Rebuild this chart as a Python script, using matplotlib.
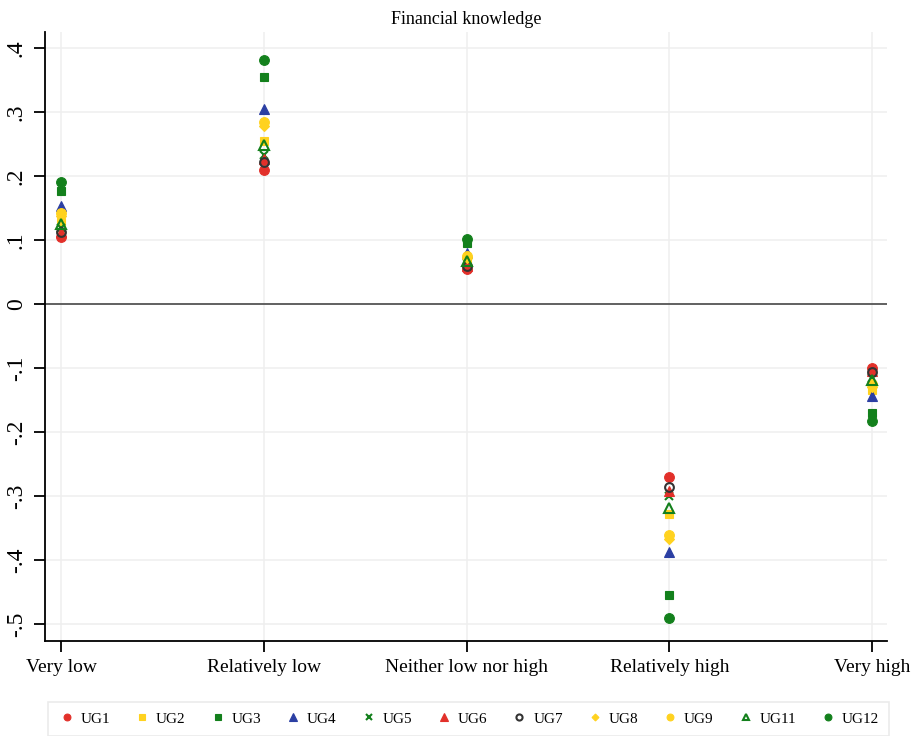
import matplotlib
matplotlib.use("Agg")
import matplotlib.pyplot as plt

categories = ["Very low", "Relatively low", "Neither low nor high", "Relatively high", "Very high"]

ug1 = [0.105, 0.209, 0.055, -0.270, -0.100]
ug2 = [0.128, 0.255, 0.070, -0.328, -0.135]
ug3 = [0.177, 0.354, 0.095, -0.455, -0.170]
ug4 = [0.153, 0.304, 0.080, -0.388, -0.143]
ug5 = [0.118, 0.233, 0.064, -0.300, -0.115]
ug6 = [0.113, 0.226, 0.060, -0.292, -0.105]
ug7 = [0.112, 0.222, 0.060, -0.286, -0.107]
ug8 = [0.138, 0.278, 0.072, -0.367, -0.130]
ug9 = [0.142, 0.285, 0.075, -0.361, -0.125]
ug11 = [0.125, 0.249, 0.067, -0.318, -0.118]
ug12 = [0.191, 0.381, 0.101, -0.491, -0.183]

yticks = [-0.5, -0.4, -0.3, -0.2, -0.1, 0, 0.1, 0.2, 0.3, 0.4]
ytick_labels = ["-.5", "-.4", "-.3", "-.2", "-.1", "0", ".1", ".2", ".3", ".4"]

red = "#e2302a"
yellow = "#ffd21f"
green = "#13801c"
blue = "#2b3fa3"
grey = "#333333"

# label, values, marker, face colour, edge colour, size
series = [
    ("UG1", ug1, "o", red, red, 7),
    ("UG2", ug2, "s", yellow, yellow, 6.3),
    ("UG3", ug3, "s", green, green, 6.3),
    ("UG4", ug4, "^", blue, blue, 7.5),
    ("UG5", ug5, "x", green, green, 6),
    ("UG6", ug6, "^", red, red, 7.5),
    ("UG7", ug7, "o", "none", grey, 6.3),
    ("UG8", ug8, "D", yellow, yellow, 5),
    ("UG9", ug9, "o", yellow, yellow, 7),
    ("UG11", ug11, "^", "none", green, 7),
    ("UG12", ug12, "o", green, green, 7),
]


def plot_knowledge():
    plt.rcParams["font.family"] = ["Liberation Serif", "DejaVu Serif"]
    fig = plt.figure(figsize=(9.22, 7.36), dpi=100)
    ax = fig.add_axes([45 / 922, 1 - 641 / 736, (887 - 45) / 922, (641 - 32) / 736])

    xs = list(range(len(categories)))
    for label, vals, mk, fc, ec, ms in series:
        ax.plot(xs, vals, linestyle="none", marker=mk, markersize=ms,
                markerfacecolor=fc, markeredgecolor=ec,
                markeredgewidth=1.5 if fc == "none" or mk == "x" else 0.8,
                label=label, zorder=3)

    ax.axhline(0, color="#555555", linewidth=1.3, zorder=2)

    ax.set_xlim(-0.079, 4.074)
    ax.set_ylim(-0.5266, 0.425)
    ax.set_xticks(xs)
    ax.set_xticklabels(categories, fontsize=14)
    ax.set_yticks(yticks)
    ax.set_yticklabels(ytick_labels, fontsize=17, rotation=90, va="center")
    ax.grid(True, color="#efefef", linewidth=1.1, zorder=0)
    ax.set_axisbelow(True)
    ax.spines["top"].set_visible(False)
    ax.spines["right"].set_visible(False)
    ax.spines["left"].set_linewidth(1.3)
    ax.spines["bottom"].set_linewidth(1.3)
    ax.tick_params(axis="both", length=8, width=1.3, pad=5)
    ax.set_title("Financial knowledge", fontsize=13, pad=6)

    leg = fig.legend(loc="upper center", bbox_to_anchor=(0.508, 1 - 702 / 736), ncol=11,
                     fontsize=11, frameon=True, fancybox=False, edgecolor="#e6e6e6",
                     handletextpad=0.3, columnspacing=1.5, markerscale=0.7,
                     borderpad=0.65, handlelength=1.2, borderaxespad=0)
    leg.get_frame().set_linewidth(1.2)

    fig.savefig("out.png", dpi=100)
    return fig


plot_knowledge()
